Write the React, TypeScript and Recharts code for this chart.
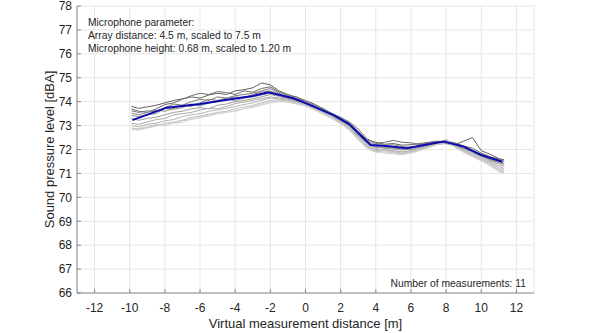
import { LineChart, Line, XAxis, YAxis, CartesianGrid } from "recharts";

// distances [m] where each measurement run is sampled
const xs = [
  -9.9, -9.5, -9, -8.5, -8, -7.5, -7, -6.5, -6, -5.5, -5, -4.5, -4, -3.5, -3, -2.5, -2, -1.5, -1, -0.5, 0,
  0.5, 1, 1.5, 2, 2.5, 3, 3.5, 4, 4.5, 5, 5.5, 6, 6.5, 7, 7.5, 8, 8.5, 9, 9.5, 10, 10.5, 11, 11.3,
];

// the 11 single measurements [dBA]
const m1 = [73.8, 73.72, 73.78, 73.85, 73.95, 74.05, 74.12, 74.2, 74.15, 74.28, 74.35, 74.3, 74.45, 74.5, 74.58, 74.78, 74.7, 74.45, 74.3, 74.18, 74.05, 73.9, 73.7, 73.5, 73.3, 73.1, 72.75, 72.4, 72.3, 72.22, 72.25, 72.18, 72.2, 72.25, 72.3, 72.35, 72.3, 72.2, 72.35, 72.5, 71.95, 71.8, 71.62, 71.55];
const m2 = [73.7, 73.6, 73.55, 73.7, 73.88, 73.95, 74.1, 74.25, 74.35, 74.3, 74.42, 74.38, 74.3, 74.45, 74.4, 74.55, 74.62, 74.4, 74.25, 74.2, 74.0, 73.85, 73.72, 73.5, 73.35, 73.15, 72.85, 72.45, 72.25, 72.3, 72.38, 72.3, 72.28, 72.2, 72.28, 72.3, 72.35, 72.28, 72.15, 72.05, 71.85, 71.7, 71.6, 71.58];
const m3 = [73.62, 73.55, 73.62, 73.58, 73.75, 73.9, 73.85, 74.0, 74.1, 74.05, 74.2, 74.15, 74.25, 74.3, 74.35, 74.45, 74.55, 74.35, 74.15, 74.05, 73.92, 73.75, 73.6, 73.42, 73.2, 72.98, 72.62, 72.3, 72.12, 72.08, 72.1, 72.0, 72.05, 72.18, 72.25, 72.32, 72.25, 72.15, 72.05, 71.9, 71.72, 71.58, 71.45, 71.38];
const m4 = [73.52, 73.45, 73.55, 73.65, 73.6, 73.72, 73.85, 73.8, 73.95, 74.1, 74.05, 74.15, 74.2, 74.15, 74.3, 74.4, 74.45, 74.3, 74.22, 74.12, 74.02, 73.85, 73.68, 73.52, 73.32, 73.08, 72.72, 72.35, 72.2, 72.18, 72.2, 72.12, 72.1, 72.15, 72.2, 72.3, 72.38, 72.25, 72.1, 71.95, 71.8, 71.68, 71.55, 71.5];
const m5 = [73.42, 73.38, 73.45, 73.5, 73.72, 73.68, 73.75, 73.9, 73.82, 73.95, 74.0, 74.1, 74.05, 74.15, 74.2, 74.28, 74.35, 74.25, 74.15, 74.1, 73.95, 73.8, 73.62, 73.42, 73.25, 73.0, 72.68, 72.28, 72.1, 72.05, 72.02, 71.98, 72.0, 72.1, 72.18, 72.25, 72.28, 72.2, 72.05, 71.92, 71.75, 71.6, 71.48, 71.42];
const m6 = [73.3, 73.22, 73.3, 73.35, 73.45, 73.55, 73.6, 73.7, 73.75, 73.7, 73.85, 73.9, 74.0, 74.05, 74.12, 74.2, 74.3, 74.22, 74.12, 74.05, 73.98, 73.8, 73.6, 73.45, 73.22, 72.98, 72.6, 72.22, 72.05, 72.1, 72.05, 72.02, 72.0, 72.08, 72.15, 72.22, 72.25, 72.18, 72.08, 71.9, 71.72, 71.55, 71.38, 71.3];
const m7 = [73.1, 73.05, 73.15, 73.25, 73.3, 73.45, 73.5, 73.55, 73.65, 73.72, 73.7, 73.8, 73.92, 73.98, 74.05, 74.12, 74.2, 74.15, 74.1, 74.0, 73.9, 73.75, 73.58, 73.4, 73.2, 72.95, 72.55, 72.15, 72.0, 71.98, 71.95, 71.9, 71.95, 72.05, 72.15, 72.25, 72.3, 72.15, 72.0, 71.85, 71.68, 71.5, 71.3, 71.2];
const m8 = [73.0, 72.95, 73.05, 73.1, 73.2, 73.25, 73.38, 73.45, 73.5, 73.6, 73.65, 73.72, 73.8, 73.88, 73.95, 74.05, 74.15, 74.12, 74.05, 73.98, 73.88, 73.72, 73.55, 73.38, 73.15, 72.9, 72.5, 72.1, 71.95, 72.0, 71.92, 71.85, 71.92, 72.0, 72.1, 72.2, 72.42, 72.18, 71.95, 71.8, 71.62, 71.45, 71.22, 71.12];
const m9 = [72.9, 72.85, 72.92, 73.0, 73.1, 73.15, 73.22, 73.35, 73.4, 73.48, 73.55, 73.6, 73.7, 73.78, 73.85, 73.95, 74.05, 74.08, 74.0, 73.95, 73.85, 73.7, 73.52, 73.35, 73.12, 72.85, 72.45, 72.05, 71.9, 71.95, 71.88, 71.82, 71.9, 72.0, 72.12, 72.2, 72.28, 72.12, 71.92, 71.75, 71.58, 71.4, 71.15, 71.05];
const m10 = [72.82, 72.88, 72.95, 73.05, 73.0, 73.12, 73.2, 73.25, 73.35, 73.4, 73.5, 73.55, 73.62, 73.7, 73.8, 73.9, 74.0, 74.05, 74.02, 73.92, 73.85, 73.68, 73.5, 73.3, 73.1, 72.82, 72.42, 72.08, 71.92, 71.9, 71.85, 71.8, 71.88, 71.98, 72.1, 72.22, 72.35, 72.1, 71.9, 71.72, 71.55, 71.35, 71.1, 71.02];
const m11 = [72.85, 72.8, 72.9, 72.98, 73.05, 73.1, 73.12, 73.3, 73.32, 73.45, 73.5, 73.58, 73.58, 73.72, 73.75, 73.85, 73.95, 74.0, 73.98, 73.9, 73.82, 73.65, 73.48, 73.28, 73.08, 72.8, 72.4, 72.05, 71.88, 71.85, 71.82, 71.78, 71.85, 71.95, 72.08, 72.2, 72.45, 72.08, 71.88, 71.7, 71.52, 71.32, 71.08, 70.98];

const runs = [m1, m2, m3, m4, m5, m6, m7, m8, m9, m10, m11];
const runColors = ["#626262", "#6e6e6e", "#7a7a7a", "#868686", "#929292", "#9e9e9e", "#aaaaaa", "#b5b5b5", "#c0c0c0", "#cacaca", "#d3d3d3"];

// mean over all runs
const meanX = [-9.85, -7.9, -6, -4, -3, -2.1, -0.7, -0.3, 1.6, 2.5, 3.7, 4.6, 5.75, 7.85, 9, 10, 11.2];
const meanY = [73.23, 73.75, 73.9, 74.13, 74.24, 74.39, 74.14, 74.03, 73.44, 73.05, 72.19, 72.15, 72.05, 72.33, 72.12, 71.77, 71.49];

const xTicks = [-12, -10, -8, -6, -4, -2, 0, 2, 4, 6, 8, 10, 12];
const yTicks = [66, 67, 68, 69, 70, 71, 72, 73, 74, 75, 76, 77, 78];

const runData = xs.map((x, i) => {
  const row: Record<string, number> = { x };
  runs.forEach((r, k) => (row["m" + (k + 1)] = r[i]));
  return row;
});
const meanData = meanX.map((x, i) => ({ x, y: meanY[i] }));

const TXT = "#262626";
const BOX = "#8a8a8a";
const FONT = "Arial, 'Liberation Sans', sans-serif";

const BottomTick = ({ x, y, payload }: any) => (
  <g>
    <line x1={x} x2={x} y1={y} y2={y - 4} stroke={BOX} />
    <text x={x} y={y + 18.5} textAnchor="middle" fontSize={12} fill={TXT} fontFamily={FONT}>
      {payload.value}
    </text>
  </g>
);
const LeftTick = ({ x, y, payload }: any) => (
  <g>
    <line x1={x} x2={x + 4} y1={y} y2={y} stroke={BOX} />
    <text x={x - 5} y={y + 4.3} textAnchor="end" fontSize={12} fill={TXT} fontFamily={FONT}>
      {payload.value}
    </text>
  </g>
);
const TopTick = ({ x, y }: any) => <line x1={x} x2={x} y1={y} y2={y + 4} stroke={BOX} />;
const RightTick = ({ x, y }: any) => <line x1={x} x2={x - 4} y1={y} y2={y} stroke={BOX} />;

export default function App() {
  return (
    <div style={{ position: "absolute", left: 0, top: 0, width: 590, height: 333, background: "#fff" }}>
      <LineChart width={590} height={333} margin={{ top: 6, right: 56, bottom: 15, left: 47 }}>
        <CartesianGrid stroke="#e6e6e6" />
        <XAxis
          dataKey="x"
          type="number"
          domain={[-13, 13]}
          ticks={xTicks}
          interval={0}
          height={25}
          stroke={BOX}
          tickSize={0}
          tickMargin={0}
          tick={<BottomTick />}
          allowDuplicatedCategory={false}
        />
        <XAxis
          xAxisId="top"
          orientation="top"
          type="number"
          domain={[-13, 13]}
          ticks={xTicks}
          interval={0}
          height={0}
          stroke={BOX}
          tickSize={0}
          tickMargin={0}
          tick={<TopTick />}
        />
        <YAxis
          type="number"
          domain={[66, 78]}
          ticks={yTicks}
          interval={0}
          width={30}
          stroke={BOX}
          tickSize={0}
          tickMargin={0}
          tick={<LeftTick />}
        />
        <YAxis
          yAxisId="right"
          orientation="right"
          type="number"
          domain={[66, 78]}
          ticks={yTicks}
          interval={0}
          width={0}
          stroke={BOX}
          tickSize={0}
          tickMargin={0}
          tick={<RightTick />}
        />
        {runs.map((_, k) => (
          <Line
            key={k}
            data={runData}
            dataKey={"m" + (k + 1)}
            stroke={runColors[k]}
            strokeWidth={1}
            dot={false}
            activeDot={false}
            isAnimationActive={false}
          />
        ))}
        <Line data={meanData} dataKey="y" stroke="#0a0ab0" strokeWidth={2} dot={false} activeDot={false} isAnimationActive={false} />
      </LineChart>
      <svg width={590} height={333} style={{ position: "absolute", left: 0, top: 0, pointerEvents: "none" }}>
        <g fontFamily={FONT} fill={TXT}>
          <text x={88} y={25.5} fontSize={10.3}>Microphone parameter:</text>
          <text x={88} y={38.5} fontSize={10.3}>Array distance: 4.5 m, scaled to 7.5 m</text>
          <text x={88} y={52} fontSize={10.3}>Microphone height: 0.68 m, scaled to 1.20 m</text>
          <text x={526} y={287} fontSize={10.3} textAnchor="end">Number of measurements: 11</text>
          <text x={305.5} y={328} fontSize={13} textAnchor="middle">Virtual measurement distance [m]</text>
          <text x={54} y={149.5} fontSize={13} textAnchor="middle" transform="rotate(-90 54 149.5)">
            Sound pressure level [dBA]
          </text>
        </g>
      </svg>
    </div>
  );
}
